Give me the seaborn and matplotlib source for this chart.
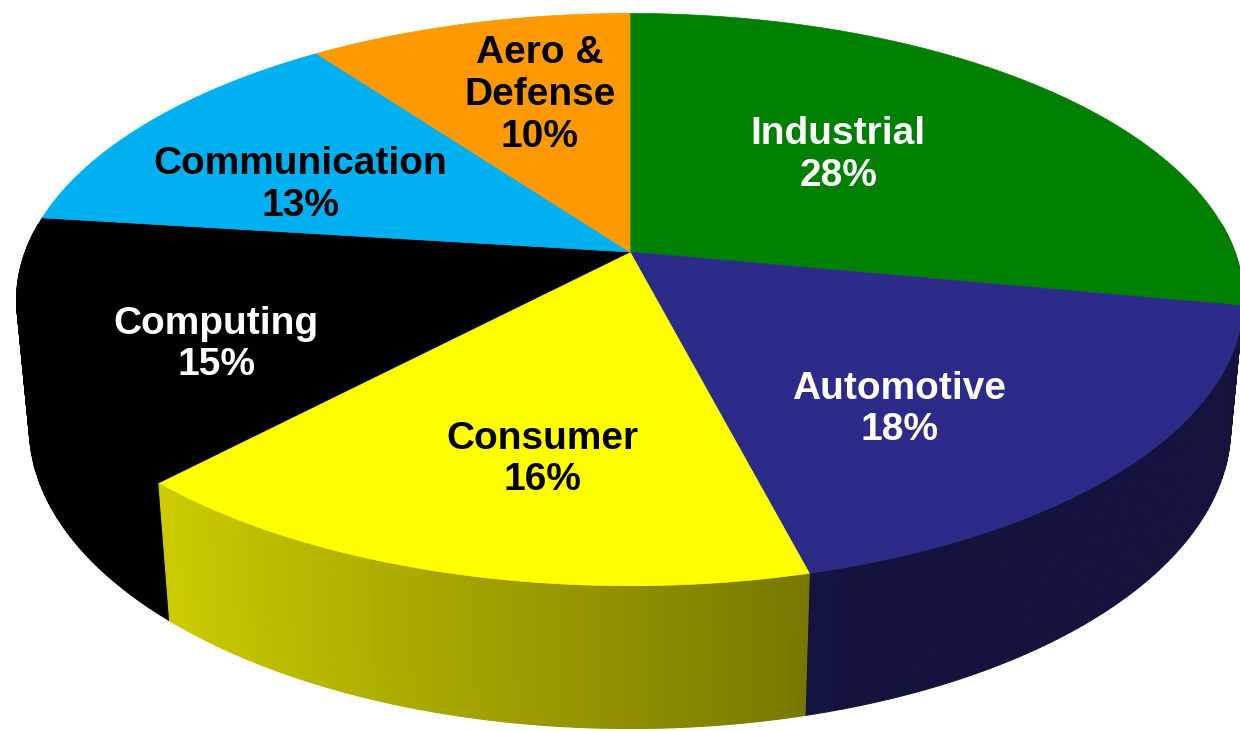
import numpy as np
import seaborn as sns
import matplotlib.pyplot as plt
from matplotlib.colors import to_rgb

# Market share by segment (clockwise from 12 o'clock)
segments = ["Industrial", "Automotive", "Consumer", "Computing", "Communication", "Aero &\nDefense"]
shares = [28, 18, 16, 15, 13, 10]
colors = ["#008000", "#2C2B8A", "#FFFF00", "#000000", "#00B0F0", "#FF9900"]
text_colors = ["white", "white", "black", "white", "black", "black"]

sns.set_theme(style="white")
plt.rcParams["font.family"] = ["Liberation Sans", "DejaVu Sans"]

# camera / layout for the 3D look
cx, cy = 630, 252          # pie centre in pixels
D, k = 5.34, 3230          # viewing distance and focal scale
elev = np.arcsin(0.46)
s, c = np.sin(elev), np.cos(elev)
h = 0.24                   # thickness of the pie


def proj(X, Y, Z):
    depth = D + Y * c - Z * s
    u = k * X / depth
    v = k * (Y * s + Z * c) / depth
    return cx + u, cy - v, depth


def shade(rgb, X):
    f = np.clip(0.558 - 0.353 * X, 0.45, 1.0)
    return tuple(np.array(rgb) * f)


fig = plt.figure(figsize=(12.4, 7.31), dpi=100)
ax = fig.add_axes([0, 0, 1, 1])
ax.set_xlim(0, 1240)
ax.set_ylim(731, 0)
ax.axis("off")

frac = np.array(shares) / sum(shares)
edges = np.concatenate([[0], np.cumsum(frac)])

# side walls, drawn far to near
quads = []
for i in range(len(shares)):
    t = np.linspace(edges[i], edges[i + 1], 80)
    phi = 2 * np.pi * t
    for a, b in zip(phi[:-1], phi[1:]):
        Xa, Ya, Xb, Yb = np.sin(a), np.cos(a), np.sin(b), np.cos(b)
        if (Ya + Yb) / 2 > 0.1:
            continue
        x1, y1, d1 = proj(Xa, Ya, 0)
        x2, y2, _ = proj(Xb, Yb, 0)
        x3, y3, _ = proj(Xb, Yb, -h)
        x4, y4, _ = proj(Xa, Ya, -h)
        col = shade(to_rgb(colors[i]), (Xa + Xb) / 2)
        quads.append((d1, [x1, x2, x3, x4], [y1, y2, y3, y4], col))
for d, xs, ys, col in sorted(quads, key=lambda q: -q[0]):
    ax.fill(xs, ys, color=col, ec=col, lw=0.8)

# top faces
for i in range(len(shares)):
    t = np.linspace(edges[i], edges[i + 1], 200)
    phi = 2 * np.pi * t
    xs, ys, _ = proj(np.sin(phi), np.cos(phi), 0)
    xs = np.concatenate([[cx], xs])
    ys = np.concatenate([[cy], ys])
    ax.fill(xs, ys, color=colors[i], ec=colors[i], lw=0.5)

# labels
nudges = [(-75, 11), (-40, 24), (22, 12), (-30, 29), (-9, 20), (20, -1)]
for i, name in enumerate(segments):
    mid = 2 * np.pi * (edges[i] + edges[i + 1]) / 2
    lx, ly, _ = proj(0.65 * np.sin(mid), 0.65 * np.cos(mid), 0)
    ax.text(lx + nudges[i][0], ly + nudges[i][1], f"{name}\n{shares[i]}%",
            ha="center", va="center", fontsize=28, fontweight="bold",
            color=text_colors[i], linespacing=1.2)

fig.savefig("out.png", dpi=100)
